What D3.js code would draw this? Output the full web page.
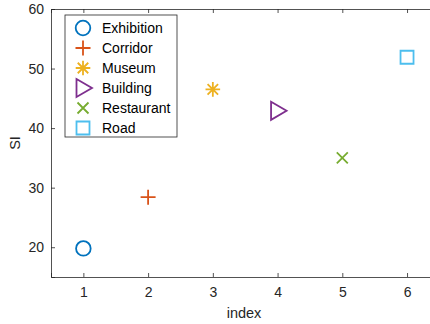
<!DOCTYPE html>
<html>
<head>
<meta charset="utf-8">
<script src="https://cdn.jsdelivr.net/npm/d3@7"></script>
<style>
  html, body { margin: 0; padding: 0; background: #fff; }
  svg { display: block; font-family: "Liberation Sans", Arial, Helvetica, sans-serif; }
</style>
</head>
<body>
<svg id="chart" width="430" height="324"></svg>
<script>
// Scene categories and their SI values
const categories = ["Exhibition", "Corridor", "Museum", "Building", "Restaurant", "Road"];
const indexValues = [1, 2, 3, 4, 5, 6];
const siValues = [19.8, 28.4, 46.5, 42.9, 35.0, 51.9];
const xTicks = [1, 2, 3, 4, 5, 6];
const yTicks = [20, 30, 40, 50, 60];

// Marker style per category
const palette = ["#0072BD", "#D95319", "#EDB120", "#7E2F8E", "#77AC30", "#4DBEEE"];
const shapes = ["circle", "plus", "asterisk", "triangleRight", "cross", "square"];

const svg = d3.select("#chart");
const axisColor = "#262626";
const plotLeft = 51, plotTop = 9, plotBottom = 277, plotRight = 439.4;

const x = d3.scaleLinear().domain([0.5, 6.5]).range([plotLeft, plotRight]);
const y = d3.scaleLinear().domain([15, 60]).range([plotBottom, plotTop]);

// Marker path generators centred on (0,0)
function markerPath(shape) {
  const p = d3.path();
  switch (shape) {
    case "circle":
      p.arc(0, 0, 7.3, 0, 2 * Math.PI); break;
    case "plus":
      p.moveTo(-7.5, 0); p.lineTo(7.5, 0); p.moveTo(0, -7.5); p.lineTo(0, 7.5); break;
    case "asterisk": {
      const r = 7.3;
      p.moveTo(-r, 0); p.lineTo(r, 0); p.moveTo(0, -r); p.lineTo(0, r);
      const d = r * 0.72;
      p.moveTo(-d, -d); p.lineTo(d, d); p.moveTo(-d, d); p.lineTo(d, -d);
      break;
    }
    case "triangleRight":
      p.moveTo(-6.5, -9); p.lineTo(9, 0); p.lineTo(-6.5, 9); p.closePath(); break;
    case "cross":
      p.moveTo(-5.5, -5.5); p.lineTo(5.5, 5.5); p.moveTo(-5.5, 5.5); p.lineTo(5.5, -5.5); break;
    case "square":
      p.rect(-6.5, -6.5, 13, 13); break;
  }
  return p.toString();
}

// Axes with inward ticks
const xAxis = svg.append("g")
  .attr("transform", `translate(0,${plotBottom})`)
  .call(d3.axisBottom(x).tickValues(xTicks).tickSize(-4).tickPadding(10).tickFormat(d3.format("d")));
const xTop = svg.append("g")
  .attr("transform", `translate(0,${plotTop})`)
  .call(d3.axisTop(x).tickValues(xTicks).tickSize(-4).tickFormat(""));
const yAxis = svg.append("g")
  .attr("transform", `translate(${plotLeft},0)`)
  .call(d3.axisLeft(y).tickValues(yTicks).tickSize(-4).tickPadding(7).tickFormat(d3.format("d")));

[xAxis, xTop, yAxis].forEach(g => {
  g.select(".domain").attr("stroke", axisColor).attr("stroke-width", 0.8);
  g.selectAll(".tick line").attr("stroke", axisColor).attr("stroke-width", 0.8);
  g.selectAll(".tick text").attr("fill", axisColor).attr("font-size", 14)
    .attr("font-family", "Liberation Sans, Arial, sans-serif");
});

// Axis titles
svg.append("text")
  .attr("x", 244).attr("y", 318)
  .attr("text-anchor", "middle")
  .attr("fill", axisColor).attr("font-size", 14.5)
  .text("index");
svg.append("text")
  .attr("transform", "translate(20,143) rotate(-90)")
  .attr("text-anchor", "middle")
  .attr("fill", axisColor).attr("font-size", 14.5)
  .text("SI");

// Data markers
svg.append("g").selectAll("path")
  .data(categories)
  .join("path")
  .attr("transform", (d, i) => `translate(${x(indexValues[i])},${y(siValues[i])})`)
  .attr("d", (d, i) => markerPath(shapes[i]))
  .attr("fill", "none")
  .attr("stroke", (d, i) => palette[i])
  .attr("stroke-width", 1.8);

// Legend
const legend = svg.append("g");
legend.append("rect")
  .attr("x", 65).attr("y", 15).attr("width", 112).attr("height", 122)
  .attr("fill", "#fff").attr("stroke", axisColor).attr("stroke-width", 0.8);
const rows = legend.selectAll("g.row")
  .data(categories)
  .join("g")
  .attr("class", "row")
  .attr("transform", (d, i) => `translate(83,${28 + i * 20})`);
rows.append("path")
  .attr("d", (d, i) => markerPath(shapes[i]))
  .attr("fill", "none")
  .attr("stroke", (d, i) => palette[i])
  .attr("stroke-width", 1.8);
rows.append("text")
  .attr("x", 19).attr("dy", "0.36em")
  .attr("fill", "#000").attr("font-size", 14)
  .text(d => d);
</script>
</body>
</html>
